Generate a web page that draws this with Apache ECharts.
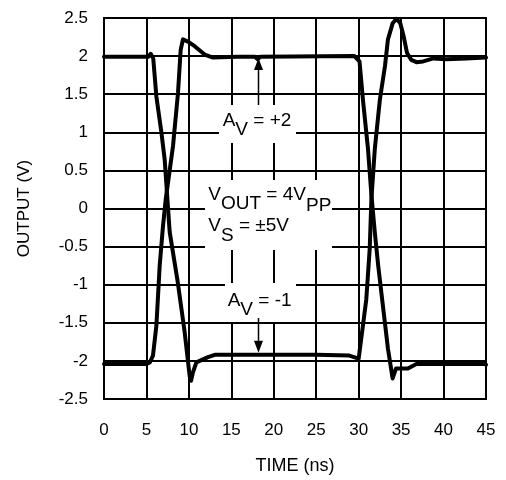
<!DOCTYPE html>
<html>
<head>
<meta charset="utf-8">
<script src="https://cdn.jsdelivr.net/npm/echarts@6/dist/echarts.min.js"></script>
<style>
  html, body { margin: 0; padding: 0; background: #fff; }
  #chart { width: 506px; height: 480px; }
</style>
</head>
<body>
<div id="chart"></div>
<script>
// Pulse response, non-inverting gain of +2 (time in ns, output in V)
const gainPlus2Time = [0, 5.0, 5.4, 5.77, 6.17, 6.56, 6.95, 7.27, 8.13, 8.72, 9.03, 9.3, 9.89, 10.68, 11.86, 12.84, 15.75, 17.8, 18.1, 18.4, 29.5, 30.1, 30.5, 31.1, 31.5, 31.9, 32.3, 32.9, 33.45, 34.0, 34.4, 35.8, 36.8, 41.0, 41.2, 41.4, 44.8, 45];
const gainPlus2Volt = [-2.04, -2.04, -2.02, -1.93, -1.54, -0.75, -0.23, 0.12, 0.82, 1.52, 2.08, 2.22, 2.19, 2.13, 2.02, 1.98, 1.99, 1.99, 1.96, 1.99, 2.0, 1.93, 1.43, 0.78, 0.18, -0.31, -0.75, -1.32, -1.84, -2.23, -2.10, -2.10, -2.04, -2.04, -2.06, -2.04, -2.04, -2.05];

// Pulse response, inverting gain of -1
const gainMinus1Time = [0, 5.2, 5.5, 5.8, 6.17, 6.76, 7.15, 7.47, 7.74, 8.68, 9.5, 10.09, 10.25, 10.48, 10.88, 11.47, 12.25, 13.04, 18, 25, 28.9, 30.0, 30.5, 30.9, 31.3, 31.5, 31.9, 32.5, 33.1, 33.45, 34.0, 34.45, 34.9, 35.3, 35.7, 36.2, 36.8, 37.6, 38.8, 40.3, 42.7, 45];
const gainMinus1Volt = [1.99, 1.99, 2.03, 1.97, 1.47, 1.0, 0.64, 0.12, -0.31, -0.96, -1.62, -2.2, -2.26, -2.15, -2.02, -1.99, -1.95, -1.92, -1.92, -1.92, -1.93, -1.97, -1.54, -1.19, -0.53, 0.12, 0.78, 1.43, 1.87, 2.22, 2.43, 2.49, 2.43, 2.26, 2.04, 1.95, 1.92, 1.93, 1.97, 1.96, 1.97, 1.98];

// Axis ranges and tick spacing
const timeTicks = [0, 5, 10, 15, 20, 25, 30, 35, 40, 45];
const voltTicks = [-2.5, -2, -1.5, -1, -0.5, 0, 0.5, 1, 1.5, 2, 2.5];

const FONT = '"Liberation Sans", Arial, Helvetica, sans-serif';

function pairs(xs, ys) {
  return xs.map((x, i) => [x, ys[i]]);
}

const chart = echarts.init(document.getElementById('chart'), null, { renderer: 'canvas' });

const traceStyle = { color: '#000', width: 4, cap: 'round', join: 'round' };

chart.setOption({
  animation: false,
  backgroundColor: '#fff',
  grid: {
    left: 104, right: 20, top: 18, bottom: 80,
    show: true, borderColor: '#000', borderWidth: 2, backgroundColor: 'transparent'
  },
  xAxis: {
    type: 'value',
    min: timeTicks[0], max: timeTicks[timeTicks.length - 1], interval: 5,
    name: 'TIME (ns)', nameLocation: 'middle', nameGap: 58,
    nameTextStyle: { color: '#000', fontSize: 18, fontFamily: FONT },
    axisLine: { show: false, onZero: false },
    axisTick: { show: false },
    axisLabel: { color: '#000', fontSize: 17, fontFamily: FONT, margin: 23 },
    splitLine: { show: true, lineStyle: { color: '#000', width: 2 } }
  },
  yAxis: {
    type: 'value',
    min: voltTicks[0], max: voltTicks[voltTicks.length - 1], interval: 0.5,
    name: 'OUTPUT (V)', nameLocation: 'middle', nameGap: 71,
    nameTextStyle: { color: '#000', fontSize: 17, fontFamily: FONT },
    axisLine: { show: false, onZero: false },
    axisTick: { show: false },
    axisLabel: { color: '#000', fontSize: 17, fontFamily: FONT, margin: 16 },
    splitLine: { show: true, lineStyle: { color: '#000', width: 2 } }
  },
  series: [
    {
      name: 'AV = +2', type: 'line', showSymbol: false, symbol: 'none',
      data: pairs(gainPlus2Time, gainPlus2Volt), lineStyle: traceStyle, z: 3
    },
    {
      name: 'AV = -1', type: 'line', showSymbol: false, symbol: 'none',
      data: pairs(gainMinus1Time, gainMinus1Volt), lineStyle: traceStyle, z: 3
    }
  ]
});

// Annotation boxes: white panels that break the grid under each label
function tok(drop) {
  return { fontSize: 19, fontFamily: FONT, color: '#000', lineHeight: 20, verticalAlign: 'top', padding: [drop, 0, 0, 0] };
}
const labelRich = { m: tok(0), a: tok(9), o: tok(9.5), p: tok(11), s: tok(10) };

function panel(x, y, w, h) {
  return { type: 'rect', z: 10, shape: { x: x, y: y, width: w, height: h }, style: { fill: '#fff' } };
}
function label(x, y, text) {
  return { type: 'text', z: 11, x: x, y: y, style: { text: text, rich: labelRich, align: 'left', verticalAlign: 'top' } };
}

const arrowX = 18.2;
const tipTop = chart.convertToPixel({ gridIndex: 0 }, [arrowX, 2.0]);
const tipBottom = chart.convertToPixel({ gridIndex: 0 }, [arrowX, -1.92]);

function arrow(x, fromY, toY) {
  const dir = toY < fromY ? -1 : 1;
  const headLen = 12, headHalf = 4.5;
  const baseY = toY - dir * headLen;
  return [
    { type: 'line', z: 12, shape: { x1: x, y1: fromY, x2: x, y2: baseY }, style: { stroke: '#000', lineWidth: 1.5 } },
    { type: 'polygon', z: 12, shape: { points: [[x, toY], [x - headHalf, baseY], [x + headHalf, baseY]] }, style: { fill: '#000' } }
  ];
}

chart.setOption({
  graphic: [
    panel(219, 105, 77, 38),
    panel(205, 180, 127, 70),
    panel(225, 283, 71, 39),
    label(222.7, 111, '{m|A}{a|V}{m| = +2}'),
    label(208.3, 185, '{m|V}{o|OUT}{m| = 4V}{p|PP}'),
    label(208.3, 216, '{m|V}{s|S}{m| = \u00b15V}'),
    label(227.7, 291, '{m|A}{a|V}{m| = -1}')
  ].concat(arrow(tipTop[0], 105, tipTop[1] + 2), arrow(tipBottom[0], 318, tipBottom[1] - 2))
});
</script>
</body>
</html>
